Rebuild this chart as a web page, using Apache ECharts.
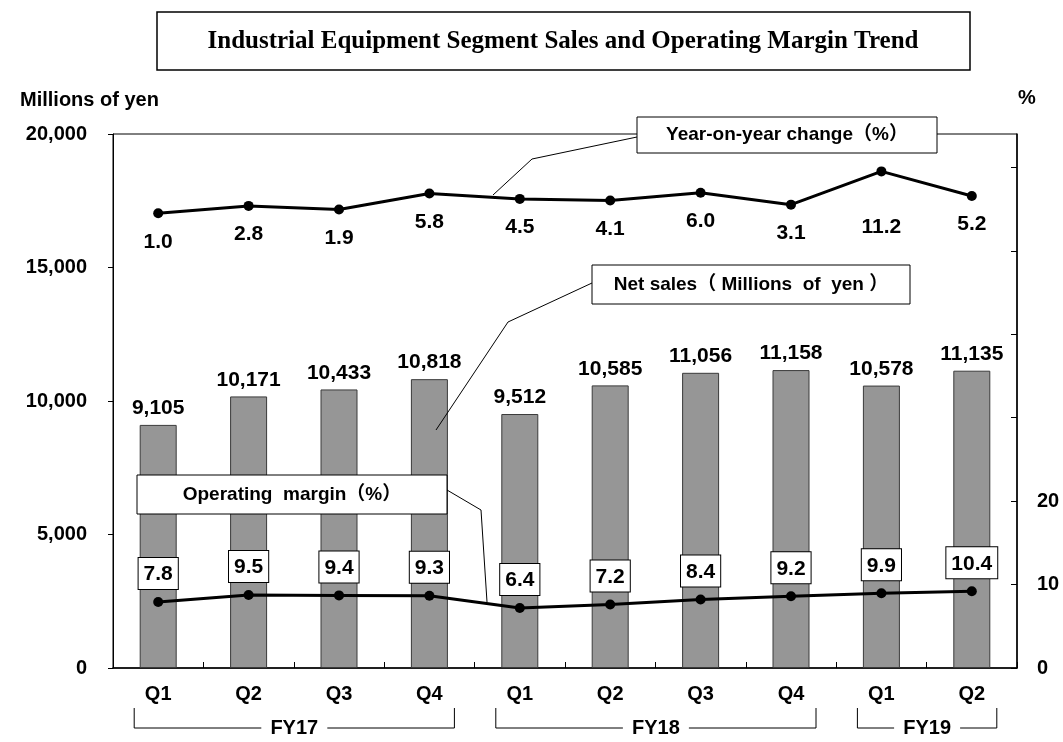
<!DOCTYPE html>
<html><head><meta charset="utf-8">
<script src="https://cdn.jsdelivr.net/npm/echarts@6/dist/echarts.min.js"></script>
<style>html,body{margin:0;padding:0;background:#fff}#c{width:1063px;height:742px}</style>
</head><body><div id="c"></div>
<script>
// ---- data ----
const categories = ['Q1','Q2','Q3','Q4','Q1','Q2','Q3','Q4','Q1','Q2'];
const fiscalYears = ['FY17','FY18','FY19'];
const fiscalYearQuarterCounts = [4, 4, 2];
const netSales = [9105, 10171, 10433, 10818, 9512, 10585, 11056, 11158, 10578, 11135];
const operatingMargin = [7.8, 9.5, 9.4, 9.3, 6.4, 7.2, 8.4, 9.2, 9.9, 10.4];
const yoyChange = [1.0, 2.8, 1.9, 5.8, 4.5, 4.1, 6.0, 3.1, 11.2, 5.2];
const rightTickLabels = [0, 10, 20];

const TITLE = 'Industrial Equipment Segment Sales and Operating Margin Trend';
const FONT = "'Liberation Sans', Arial, sans-serif";
const CJKFONT = "'Liberation Sans', 'Noto Sans CJK JP', sans-serif";

const chart = echarts.init(document.getElementById('c'), null, {renderer: 'canvas'});

const fmt = v => v.toLocaleString('en-US');

const yoyData = yoyChange.map((v, i) => {
  const d = {value: v};
  if (v === Math.max(...yoyChange)) d.label = {distance: 40};
  return d;
});

const option = {
  backgroundColor: '#fff',
  animation: false,
  textStyle: {fontFamily: FONT},
  grid: {left: 113, right: 46, top: 134, bottom: 74, show: true, borderColor: '#000', borderWidth: 1, backgroundColor: 'transparent'},
  xAxis: {
    type: 'category', data: categories, boundaryGap: true,
    axisLine: {show: true, lineStyle: {color: '#000', width: 1.5}},
    axisTick: {show: true, inside: true, length: 6, lineStyle: {color: '#000'}},
    axisLabel: {color: '#000', fontWeight: 'bold', fontSize: 20, margin: 16, fontFamily: FONT}
  },
  yAxis: [
    {type: 'value', min: 0, max: 20000, interval: 5000, position: 'left',
     axisLine: {show: true, lineStyle: {color: '#000'}},
     axisTick: {show: true, inside: false, length: 5, lineStyle: {color: '#000'}},
     splitLine: {show: false},
     axisLabel: {color: '#000', fontWeight: 'bold', fontSize: 20, margin: 26, formatter: v => fmt(v)}},
    {type: 'value', min: 0, max: 64, interval: 10, position: 'right',
     axisLine: {show: true, onZero: false, lineStyle: {color: '#000', width: 1.5}},
     axisTick: {show: true, inside: true, length: 6, lineStyle: {color: '#000'}},
     splitLine: {show: false},
     axisLabel: {color: '#000', fontWeight: 'bold', fontSize: 20, margin: 20, showMaxLabel: false,
       formatter: v => rightTickLabels.indexOf(v) >= 0 ? String(v) : ''}},
    {type: 'value', min: -8, max: 120, show: false, splitLine: {show: false}},
    {type: 'value', min: -109.7, max: 20.3, show: false, splitLine: {show: false}}
  ],
  series: [
    {name: 'Net sales', type: 'bar', data: netSales, yAxisIndex: 0, barWidth: 37, z: 2,
     itemStyle: {color: '#969696', borderColor: '#3a3a3a', borderWidth: 1},
     label: {show: true, position: 'top', distance: 6, color: '#000', fontWeight: 'bold', fontSize: 21, formatter: p => fmt(p.value)}},
    {name: 'Operating margin', type: 'line', data: operatingMargin, yAxisIndex: 2, z: 5,
     symbol: 'circle', symbolSize: 10, itemStyle: {color: '#000'}, lineStyle: {color: '#000', width: 3},
     label: {show: true, position: 'top', distance: 8, color: '#000', fontWeight: 'bold', fontSize: 21,
       backgroundColor: '#fff', borderColor: '#000', borderWidth: 1, padding: [6, 5, 4, 5], formatter: p => p.value.toFixed(1)}},
    {name: 'Year-on-year change', type: 'line', data: yoyData, yAxisIndex: 3, z: 5,
     symbol: 'circle', symbolSize: 10, itemStyle: {color: '#000'}, lineStyle: {color: '#000', width: 3},
     label: {show: true, position: 'bottom', distance: 13, color: '#000', fontWeight: 'bold', fontSize: 21, formatter: p => p.value.toFixed(1)}}
  ]
};
chart.setOption(option);

// ---- annotations ----
function callout(x, y, w, h, text, leader) {
  return [
    {type: 'polyline', shape: {points: leader}, style: {stroke: '#000', lineWidth: 1, fill: null}, z: 50},
    {type: 'rect', shape: {x: x, y: y, width: w, height: h}, style: {fill: '#fff', stroke: '#000', lineWidth: 1}, z: 51},
    {type: 'text', x: x + w / 2, y: y + h / 2, style: {text: text, fill: '#000', font: 'bold 19px ' + CJKFONT, align: 'center', verticalAlign: 'middle'}, z: 52}
  ];
}

const g = [];
// title
g.push({type: 'rect', shape: {x: 157, y: 12, width: 813, height: 58}, style: {fill: '#fff', stroke: '#000', lineWidth: 1.5}, z: 50});
g.push({type: 'text', x: 563, y: 42, style: {text: TITLE, fill: '#000', font: "bold 25px 'Liberation Serif', 'Times New Roman', serif", align: 'center', verticalAlign: 'middle'}, z: 51});
// axis titles
g.push({type: 'text', x: 20, y: 100, style: {text: 'Millions of yen', fill: '#000', font: 'bold 20px ' + FONT, align: 'left', verticalAlign: 'middle'}, z: 51});
g.push({type: 'text', x: 1018, y: 98, style: {text: '%', fill: '#000', font: 'bold 20px ' + FONT, align: 'left', verticalAlign: 'middle'}, z: 51});

// callouts
g.push(...callout(637, 117, 300, 36, 'Year-on-year change（%）', [[493, 195], [532, 159], [637, 137]]));
g.push(...callout(592, 265, 318, 39, 'Net sales（ Millions  of  yen ）', [[436, 430], [508, 322], [592, 283]]));
g.push(...callout(137, 475, 310, 39, 'Operating  margin（%）', [[447, 490], [481, 510], [487, 602]]));

// fiscal-year brackets
let start = 0;
fiscalYears.forEach((fy, k) => {
  const n = fiscalYearQuarterCounts[k];
  const xs = chart.convertToPixel({xAxisIndex: 0}, start);
  const xe = chart.convertToPixel({xAxisIndex: 0}, start + n - 1);
  const xl = xs - 24, xr = xe + 25, xc = (xl + xr) / 2;
  const yTop = 708, yB = 728, gap = 33;
  g.push({type: 'polyline', shape: {points: [[xl, yTop], [xl, yB], [xc - gap, yB]]}, style: {stroke: '#000', lineWidth: 1, fill: null}, z: 50});
  g.push({type: 'polyline', shape: {points: [[xc + gap, yB], [xr, yB], [xr, yTop]]}, style: {stroke: '#000', lineWidth: 1, fill: null}, z: 50});
  g.push({type: 'text', x: xc, y: yB, style: {text: fy, fill: '#000', font: 'bold 20px ' + FONT, align: 'center', verticalAlign: 'middle'}, z: 51});
  start += n;
});

chart.setOption({graphic: g});
</script></body></html>
